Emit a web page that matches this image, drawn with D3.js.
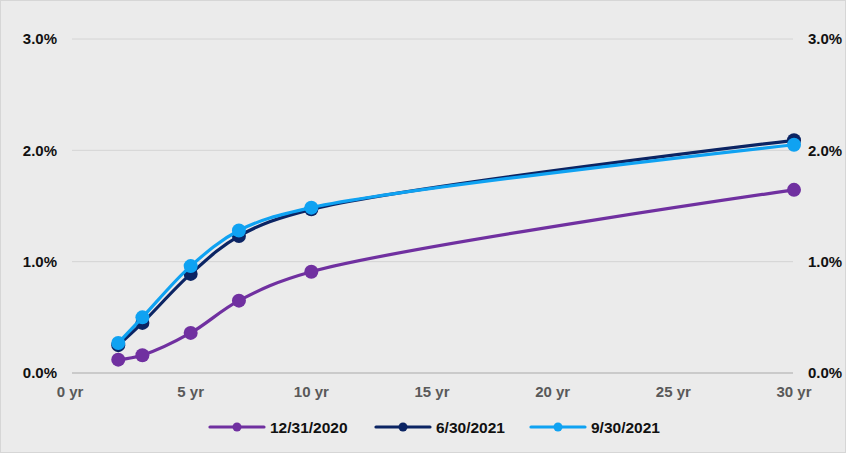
<!DOCTYPE html>
<html>
<head>
<meta charset="utf-8">
<script src="https://cdn.jsdelivr.net/npm/d3@7"></script>
<style>
  html, body { margin: 0; padding: 0; background: #ebebeb; }
  svg { display: block; }
  text { font-family: "Liberation Sans", Arial, sans-serif; font-weight: bold; }
</style>
</head>
<body>
<svg id="chart" width="846" height="453"></svg>
<script>
// Treasury yield curve: maturity (years) vs yield (%)
const maturities = [2, 3, 5, 7, 10, 30];
const seriesNames = ["12/31/2020", "6/30/2021", "9/30/2021"];
const yieldsDec2020 = [0.12, 0.16, 0.36, 0.65, 0.91, 1.645];
const yieldsJun2021 = [0.25, 0.45, 0.89, 1.23, 1.47, 2.09];
const yieldsSep2021 = [0.27, 0.50, 0.96, 1.28, 1.485, 2.05];
const xTicks = [0, 5, 10, 15, 20, 25, 30];
const yTicks = [0, 1, 2, 3];

const colors = ["#7030a0", "#0b2463", "#0fa2f2"];
const seriesValues = [yieldsDec2020, yieldsJun2021, yieldsSep2021];

const W = 846, H = 453;
const svg = d3.select("#chart");

svg.append("rect").attr("x", 0.5).attr("y", 0.5).attr("width", W - 1).attr("height", H - 1)
  .attr("fill", "#ebebeb").attr("stroke", "#d6d6d6");

const x = d3.scaleLinear().domain([0, 30]).range([70, 794]);
const y = d3.scaleLinear().domain([0, 3]).range([373, 39]);

// horizontal gridlines
svg.append("g").selectAll("line").data(yTicks).join("line")
  .attr("x1", 72).attr("x2", 793)
  .attr("y1", d => y(d)).attr("y2", d => y(d))
  .attr("stroke", d => d === 0 ? "#bfbfbf" : "#d4d4d4")
  .attr("stroke-width", d => d === 0 ? 1.5 : 1);

// left and right percentage axes
const fmt = d => d.toFixed(1) + "%";
svg.append("g").selectAll("text").data(yTicks).join("text")
  .attr("x", 57).attr("y", d => y(d)).attr("dy", "0.35em")
  .attr("text-anchor", "end").attr("font-size", 15).attr("fill", "#111")
  .text(fmt);
svg.append("g").selectAll("text").data(yTicks).join("text")
  .attr("x", 808).attr("y", d => y(d)).attr("dy", "0.35em")
  .attr("text-anchor", "start").attr("font-size", 15).attr("fill", "#111")
  .text(fmt);

// maturity axis labels
svg.append("g").selectAll("text").data(xTicks).join("text")
  .attr("x", d => x(d)).attr("y", 397)
  .attr("text-anchor", "middle").attr("font-size", 15).attr("fill", "#595959")
  .text(d => d + " yr");

// curves
const line = d3.line()
  .x(d => x(d[0])).y(d => y(d[1]))
  .curve(d3.curveCatmullRom.alpha(0.5));

seriesValues.forEach((vals, i) => {
  const pts = maturities.map((m, j) => [m, vals[j]]);
  const g = svg.append("g");
  g.append("path").datum(pts)
    .attr("d", line).attr("fill", "none")
    .attr("stroke", colors[i]).attr("stroke-width", 3.2)
    .attr("stroke-linejoin", "round").attr("stroke-linecap", "round");
  g.selectAll("circle").data(pts).join("circle")
    .attr("cx", d => x(d[0])).attr("cy", d => y(d[1]))
    .attr("r", 7).attr("fill", colors[i]);
});

// legend
const legendX = [210, 376, 531];
const lg = svg.append("g");
seriesNames.forEach((name, i) => {
  const lx = legendX[i], ly = 427;
  lg.append("line").attr("x1", lx).attr("x2", lx + 54).attr("y1", ly).attr("y2", ly)
    .attr("stroke", colors[i]).attr("stroke-width", 3.2).attr("stroke-linecap", "round");
  lg.append("circle").attr("cx", lx + 27).attr("cy", ly).attr("r", 4.5).attr("fill", colors[i]);
  lg.append("text").attr("x", lx + 60).attr("y", ly).attr("dy", "0.36em")
    .attr("font-size", 15.5).attr("fill", "#111").text(name);
});
</script>
</body>
</html>
